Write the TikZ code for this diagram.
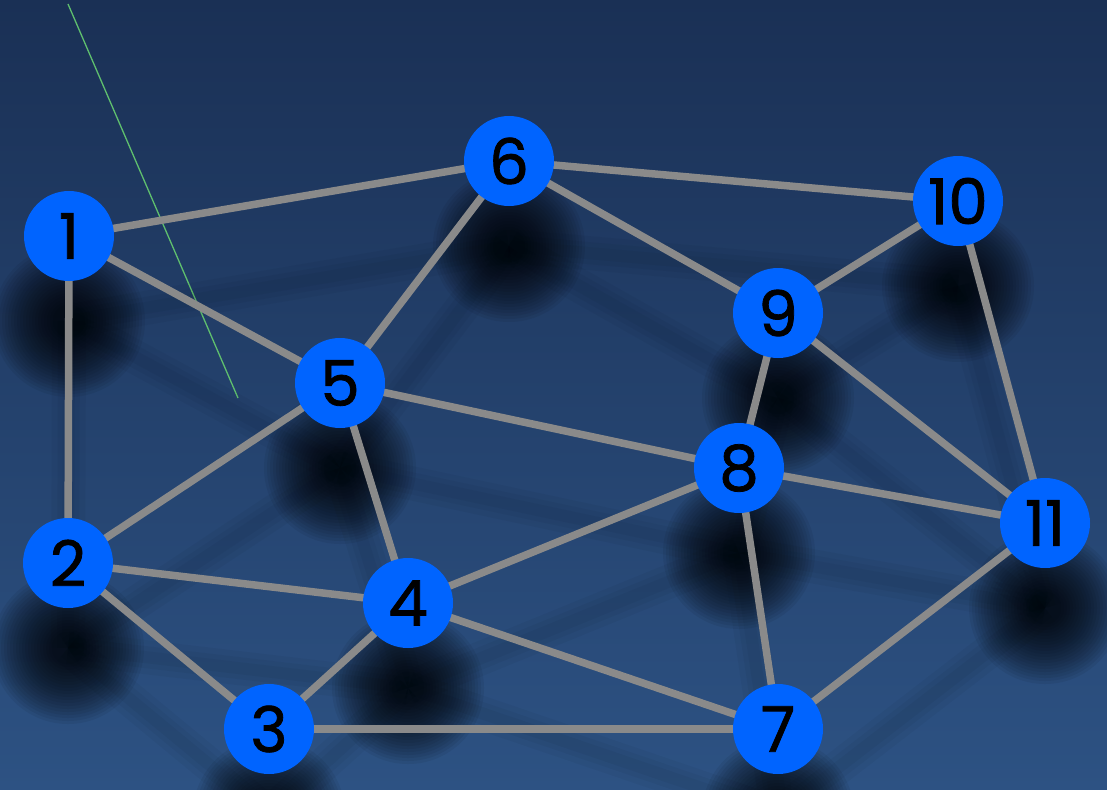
\documentclass[tikz,border=0pt]{standalone}
\usepackage{fontspec}
\setmainfont{Poppins}[FakeBold=1.2]
\pgfdeclarelayer{bg}
\pgfsetlayers{bg,main}
\definecolor{bgtop}{HTML}{1A3055}
\definecolor{bgbot}{HTML}{2D5283}
\definecolor{nodeblue}{HTML}{0064FF}
\definecolor{edgegray}{HTML}{8A8A8A}
\definecolor{guide}{HTML}{5FBF6E}
\tikzset{
  vtx/.style={circle, fill=nodeblue, minimum size=90pt, inner sep=0pt,
    font=\fontsize{63}{63}\selectfont, text=black},
  edgeline/.style={draw=edgegray, line width=7.5pt},
  edgeshadow/.style={draw=black, opacity=0.035},
  guideline/.style={draw=guide, line width=1.3pt},
}
\begin{document}
\begin{tikzpicture}[x=1pt,y=-1pt]
\useasboundingbox (0,0) rectangle (1107,789);
\node[vtx] (n1) at (69,236) {1};
\node[vtx] (n2) at (68,563) {2};
\node[vtx] (n3) at (269,729) {3};
\node[vtx] (n4) at (408,603) {4};
\node[vtx] (n5) at (340,383) {5};
\node[vtx] (n6) at (509,161) {6};
\node[vtx] (n7) at (778,729) {7};
\node[vtx] (n8) at (739,468) {8};
\node[vtx] (n9) at (778,313) {9};
\node[vtx] (n10) at (958,201) {10};
\node[vtx] (n11) at (1045,523) {11};
\begin{pgfonlayer}{bg}
  \shade[top color=bgtop, bottom color=bgbot] (0,0) rectangle (1107,789);
  \coordinate (g1) at (68,4);
  \coordinate (g2) at (238,398);
  \draw[guideline] (g1) -- (g2);
  \foreach \i in {1,...,11} {
    \coordinate (s\i) at ([yshift=-85pt]n\i.center);
  }
  \foreach \a/\b in {1/6,1/5,1/2,6/5,6/10,6/9,10/9,10/11,9/8,9/11,5/8,5/2,5/4,8/11,8/4,8/7,2/4,2/3,3/4,3/7,4/7,7/11} {
    \draw[edgeshadow, line width=34pt] (s\a) -- (s\b);
    \draw[edgeshadow, line width=22pt] (s\a) -- (s\b);
    \draw[edgeshadow, line width=12pt] (s\a) -- (s\b);
  }
  \foreach \i in {1,...,11} {
    \foreach \r in {76,73,...,16} {
      \fill[black, opacity=0.06] (s\i) circle[radius=\r];
    }
  }
  \foreach \a/\b in {1/6,1/5,1/2,6/5,6/10,6/9,10/9,10/11,9/8,9/11,5/8,5/2,5/4,8/11,8/4,8/7,2/4,2/3,3/4,3/7,4/7,7/11} {
    \draw[edgeline] (n\a.center) -- (n\b.center);
  }
\end{pgfonlayer}
\end{tikzpicture}
\end{document}
